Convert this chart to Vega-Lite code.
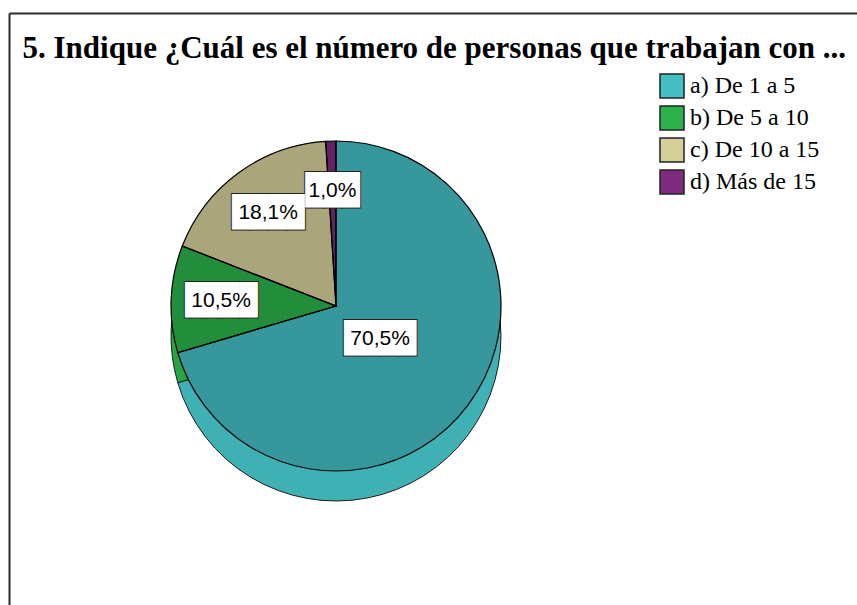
{
  "$schema": "https://vega.github.io/schema/vega-lite/v6.json",
  "width": 654,
  "height": 586,
  "padding": {"left": 9, "top": 13, "right": 0, "bottom": 0},
  "background": "white",
  "data": {
    "values": [
      {"category": "a) De 1 a 5", "share": 0.705},
      {"category": "b) De 5 a 10", "share": 0.105},
      {"category": "c) De 10 a 15", "share": 0.181},
      {"category": "d) Más de 15", "share": 0.010}
    ]
  },
  "layer": [
    {
      "encoding": {
        "theta": {"field": "share", "type": "quantitative", "stack": true},
        "order": {"field": "category", "type": "ordinal"}
      },
      "layer": [
        {
          "mark": {"type": "arc", "outerRadius": 165, "yOffset": 30, "stroke": "#1e1e1e", "strokeWidth": 1},
          "encoding": {
            "color": {
              "field": "category",
              "type": "nominal",
              "scale": {
                "domain": ["a) De 1 a 5", "b) De 5 a 10", "c) De 10 a 15", "d) Más de 15"],
                "range": ["#44bfc3", "#2bb24a", "#d5cf99", "#7d2a7f"]
              },
              "legend": {
                "orient": "none",
                "legendX": 650,
                "legendY": 60,
                "title": null,
                "symbolType": "square",
                "symbolSize": 576,
                "symbolStrokeColor": "#222222",
                "symbolStrokeWidth": 1.5,
                "symbolOpacity": 1,
                "labelFont": "Liberation Serif",
                "labelFontSize": 24,
                "labelColor": "black",
                "labelOffset": 5,
                "rowPadding": 2,
                "padding": 0
              }
            }
          }
        },
        {
          "mark": {"type": "arc", "outerRadius": 165, "yOffset": 30, "fill": "black", "fillOpacity": 0.07}
        },
        {
          "mark": {"type": "arc", "outerRadius": 165},
          "encoding": {
            "color": {"field": "category", "type": "nominal"}
          }
        },
        {
          "mark": {"type": "arc", "outerRadius": 165, "fill": "black", "fillOpacity": 0.2, "stroke": "black", "strokeWidth": 1.2}
        },
        {
          "mark": {
            "type": "text",
            "font": "DejaVu Sans Mono",
            "fontSize": 30,
            "fill": "white",
            "stroke": "#222222",
            "strokeWidth": 2,
            "radius": {"expr": "datum.category === 'a) De 1 a 5' ? 55 : 115"},
            "text": {"expr": "datum.category === 'd) Más de 15' ? '███' : '████'"}
          }
        },
        {
          "mark": {
            "type": "text",
            "font": "DejaVu Sans Mono",
            "fontSize": 30,
            "fill": "white",
            "radius": {"expr": "datum.category === 'a) De 1 a 5' ? 55 : 115"},
            "text": {"expr": "datum.category === 'd) Más de 15' ? '███' : '████'"}
          }
        },
        {
          "mark": {
            "type": "text",
            "font": "Liberation Sans",
            "fontSize": 21,
            "fill": "black",
            "radius": {"expr": "datum.category === 'a) De 1 a 5' ? 55 : 115"}
          },
          "encoding": {
            "text": {"field": "share", "type": "quantitative", "format": ".1%"}
          }
        }
      ]
    },
    {
      "data": {"values": [{"v": 0.5}]},
      "mark": {"type": "point", "opacity": 0, "size": 0},
      "encoding": {
        "x": {
          "field": "v", "type": "quantitative",
          "scale": {"domain": [0, 1], "range": [0, 848]},
          "axis": {
            "orient": "top", "domain": true, "domainColor": "#2b2b2b", "domainWidth": 2,
            "ticks": false, "labels": false, "grid": false,
            "minExtent": 0, "maxExtent": 0,
            "title": "5. Indique ¿Cuál es el número de personas que trabajan con ...",
            "titleFont": "Liberation Serif", "titleFontSize": 31, "titleFontWeight": "bold", "titleColor": "black",
            "titleAnchor": "start", "titleAlign": "left", "titleBaseline": "alphabetic", "titleAngle": 0,
            "titleX": 13, "titleY": 44
          }
        },
        "y": {
          "field": "v", "type": "quantitative",
          "scale": {"domain": [0, 1], "range": [0, 592]},
          "axis": {
            "orient": "left", "domain": true, "domainColor": "#2b2b2b", "domainWidth": 2,
            "ticks": false, "labels": false, "grid": false, "title": null,
            "minExtent": 0, "maxExtent": 0
          }
        }
      }
    }
  ],
  "config": {
    "view": {"stroke": null},
    "locale": {
      "number": {"decimal": ",", "thousands": ".", "grouping": [3], "currency": ["", " €"]}
    }
  }
}
